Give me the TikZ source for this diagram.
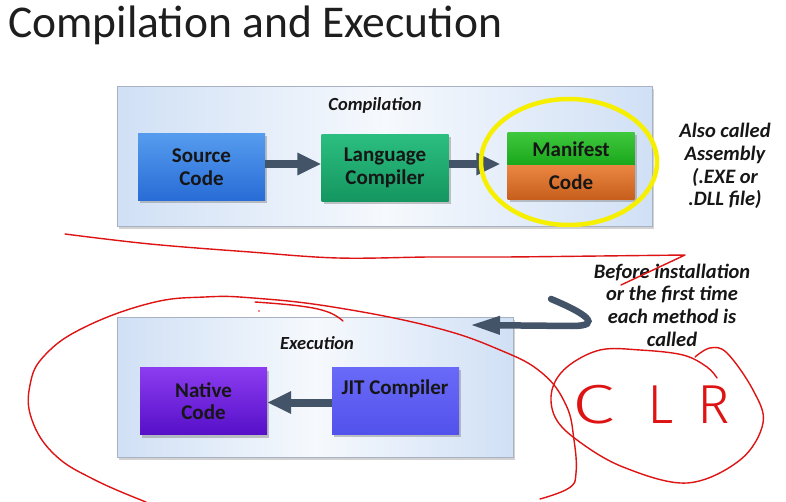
\documentclass[tikz,border=0pt]{standalone}
\usepackage{fontspec}
\usepackage{graphicx}
\setmainfont{Carlito}
\newfontfamily\handfont{Fira Sans Light}
\usetikzlibrary{arrows.meta,shadows}

\definecolor{slate}{RGB}{67,83,104}
\definecolor{ink}{RGB}{22,22,22}
\definecolor{pen}{RGB}{222,20,20}
\definecolor{hilite}{RGB}{246,240,0}
\definecolor{panelblue}{RGB}{208,224,245}
\definecolor{panelmid}{RGB}{246,249,253}
\definecolor{panelrim}{RGB}{168,178,194}

\tikzset{
  panel/.style={draw=panelrim, line width=1.4pt, left color=panelblue,
    right color=panelblue, middle color=panelmid, anchor=north west,
    inner sep=0pt, drop shadow={shadow xshift=1.5pt, shadow yshift=-2pt, opacity=.35}},
  panellabel/.style={font=\bfseries\itshape\fontsize{18.5}{20}\selectfont, text=ink},
  block/.style={minimum width=127pt, minimum height=67pt, inner sep=0pt,
    align=center, text=ink, font=\bfseries\fontsize{21}{22.5}\selectfont,
    drop shadow={shadow xshift=2pt, shadow yshift=-3pt, opacity=.45}},
  halfblock/.style={block, minimum height=33pt},
  flow/.style={draw=slate, line width=8pt,
    -{Triangle[length=24pt, width=21pt]}},
  hook/.style={draw=slate, line width=6.5pt, line cap=round,
    -{Triangle[length=30pt, width=17pt]}},
  note/.style={align=center, text=ink,
    font=\bfseries\itshape\fontsize{20.5}{22.7}\selectfont},
  scribble/.style={draw=pen, line width=1.4pt, line cap=round, line join=round}
}

\begin{document}
\begin{tikzpicture}[x=1pt, y=-1pt]
\useasboundingbox[fill=white] (0,0) rectangle (786,502);

% title
\node[anchor=base west, inner sep=0pt, text={rgb,255:red,30;green,30;blue,30},
      font=\fontsize{45.5}{52}\selectfont] (title) at (8,38) {Compilation and Execution};

% ---------- compilation stage ----------
\node[panel, minimum width=535pt, minimum height=140pt] (comp) at (117,86) {};
\node[panellabel] (complabel) at (375,105) {Compilation};

\node[block, top color={rgb,255:red,86;green,156;blue,238},
      bottom color={rgb,255:red,40;green,108;blue,214}] (src) at (201.5,167) {Source\\Code};
\node[block, top color={rgb,255:red,44;green,190;blue,128},
      bottom color={rgb,255:red,20;green,150;blue,96}] (lang) at (385,168) {Language\\Compiler};
\node[halfblock, minimum height=33pt, top color={rgb,255:red,62;green,200;blue,62},
      bottom color={rgb,255:red,26;green,166;blue,26}] (manifest) at (571,149) {Manifest};
\node[halfblock, minimum height=34pt, top color={rgb,255:red,234;green,134;blue,66},
      bottom color={rgb,255:red,200;green,94;blue,28}] (code) at (571,182.5) {Code};

\draw[flow] (src.east) ++(0,-3) coordinate (a1) -- (a1 -| lang.west);
\draw[flow] (lang.east) ++(0,-4) coordinate (a2) -- ([xshift=-7pt]a2 -| manifest.west);

\draw[hilite, line width=4.5pt] (569,162) ellipse [x radius=88, y radius=63];

\node[note] (asm) at (725,166) {Also called\\Assembly\\(.EXE or\\.DLL file)};

% ---------- execution stage ----------
\node[panel, minimum width=396pt, minimum height=140pt] (exec) at (117,317) {};
\node[panellabel] (execlabel) at (317,343) {Execution};

\node[block, top color={rgb,255:red,140;green,60;blue,240},
      bottom color={rgb,255:red,86;green,16;blue,200}] (native) at (203.5,401) {Native\\Code};
\node[block, top color={rgb,255:red,106;green,106;blue,248},
      bottom color={rgb,255:red,82;green,82;blue,236}] (jit) at (395.5,400.5) {};
\node[text=ink, font=\bfseries\fontsize{21}{22.5}\selectfont] (jittext) at (395,389) {JIT Compiler};

\draw[flow] (jit.west) ++(0,2) coordinate (a3) -- (a3 -| native.east);

\node[note] (when) at (672,305) {Before installation\\or the first time\\each method is\\called};

\coordinate (hs) at (551,299);
\coordinate (ht) at (470,325);
\draw[hook] (hs) .. controls (585,313) and (604,326) .. (572,326) -- (ht);

% ---------- pen marks ----------
\draw[scribble] plot[smooth, tension=.6] coordinates
  {(65,234) (150,244) (250,252) (338,258) (430,257) (504,257) (600,256) (685,255)}
  -- (621,285);

\draw[scribble] plot[smooth, tension=.7] coordinates
  {(146,502) (95,480) (55,455) (32,420) (30,385) (45,355) (85,327) (151,303)
   (205,297) (253,298) (333,307) (433,327) (500,350) (542,373) (566,405)
   (574,440) (576,473) (569,488) (540,499)};
\draw[scribble] plot[smooth, tension=.7] coordinates
  {(255,302) (300,306) (328,312) (343,321)};
\fill[pen] (259,311) circle [radius=0.9];

\draw[scribble] plot[smooth, tension=.6] coordinates
  {(717,378) (707,367) (683,355) (640,350) (600,350) (567,367) (552,390)
   (555,417) (577,440) (623,467) (687,483) (740,460) (763,423) (753,390)
   (727,353) (710,348) (695,357)};

\node[text=pen, inner sep=0pt, anchor=base west,
      font=\handfont\fontsize{55}{60}\selectfont] (clr) at (572,423)
      {\scalebox{1.4}[1]{C}\hspace{33pt}L\hspace{24pt}R};
\end{tikzpicture}
\end{document}
